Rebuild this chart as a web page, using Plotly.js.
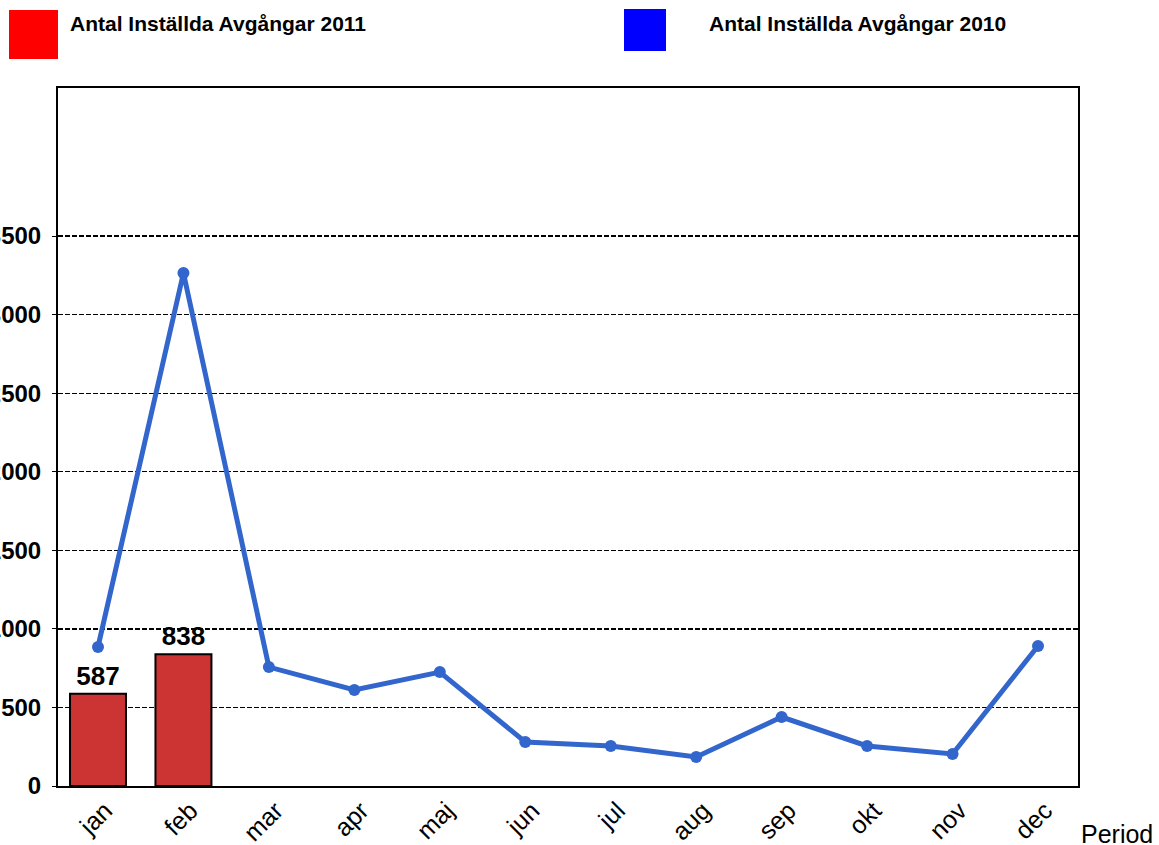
<!DOCTYPE html>
<html>
<head>
<meta charset="utf-8">
<script src="https://cdn.plot.ly/plotly-3.0.1.min.js"></script>
<style>
html,body{margin:0;padding:0;background:#fff;}
#chart{width:1159px;height:845px;}
</style>
</head>
<body>
<div id="chart"></div>
<script>
const months = ["jan","feb","mar","apr","maj","jun","jul","aug","sep","okt","nov","dec"];
const bars2011 = [587, 838];
const barMonths2011 = ["jan","feb"];
const line2010 = [885, 3265, 757, 611, 725, 280, 255, 185, 439, 255, 204, 891];
const yTicks = [0, 500, 1000, 1500, 2000, 2500, 3000, 3500];
const legendNames = ["Antal Inställda Avgångar 2011", "Antal Inställda Avgångar 2010"];
const xTitle = "Period";

const FONT = "Liberation Sans, Arial, sans-serif";

const traces = [
  {
    type: "bar",
    x: barMonths2011,
    y: bars2011,
    width: 0.655,
    marker: {color: "#CC3333", line: {color: "#000", width: 2}},
    text: bars2011.map(String),
    textposition: "outside",
    textfont: {family: FONT, size: 26, color: "#000", weight: "bold"},
    cliponaxis: false,
    showlegend: false,
    hoverinfo: "x+y"
  },
  {
    type: "scatter",
    mode: "lines+markers",
    x: months,
    y: line2010,
    line: {color: "#3366CC", width: 5},
    marker: {color: "#3366CC", size: 12},
    showlegend: false
  }
];

const layout = {
  width: 1159,
  height: 845,
  margin: {l: 58, r: 81, t: 88, b: 59},
  paper_bgcolor: "#fff",
  plot_bgcolor: "#fff",
  showlegend: false,
  font: {family: FONT, color: "#000"},
  xaxis: {
    type: "category",
    categoryorder: "array",
    categoryarray: months,
    range: [-0.468, 11.468],
    tickangle: -45,
    tickfont: {family: FONT, size: 25, color: "#000"},
    ticklabelshift: 7,
    ticklabelstandoff: -2,
    showline: true, linecolor: "#000", linewidth: 2, mirror: true,
    showgrid: false,
    ticks: "",
    zeroline: false
  },
  yaxis: {
    range: [0, 4442],
    tickmode: "array",
    tickvals: yTicks,
    ticktext: yTicks.map(String),
    tickfont: {family: FONT, size: 24, color: "#000", weight: "bold"},
    ticks: "outside", ticklen: 4, tickcolor: "#000", tickwidth: 1,
    ticklabelstandoff: 6,
    showline: true, linecolor: "#000", linewidth: 2, mirror: true,
    showgrid: true, gridcolor: "#000", gridwidth: 1.3, griddash: "5px,2px",
    zeroline: false
  },
  shapes: [
    {type: "rect", xref: "paper", yref: "paper",
     x0: (9-58)/1020, x1: (58-58)/1020, y0: (786-10)/698, y1: (786-59)/698,
     fillcolor: "#FF0000", line: {width: 0}},
    {type: "rect", xref: "paper", yref: "paper",
     x0: (624-58)/1020, x1: (666-58)/1020, y0: (786-9)/698, y1: (786-51)/698,
     fillcolor: "#0000FF", line: {width: 0}}
  ],
  annotations: [
    {xref: "paper", yref: "paper", x: (68-58)/1020, y: (786-24)/698,
     xanchor: "left", yanchor: "middle", showarrow: false,
     text: legendNames[0], font: {family: FONT, size: 21, color: "#000", weight: "bold"}},
    {xref: "paper", yref: "paper", x: (707-58)/1020, y: (786-23)/698,
     xanchor: "left", yanchor: "middle", showarrow: false,
     text: legendNames[1], font: {family: FONT, size: 21, color: "#000", weight: "bold"}},
    {xref: "paper", yref: "paper", x: (1079-58)/1020, y: (786-834)/698,
     xanchor: "left", yanchor: "middle", showarrow: false,
     text: xTitle, font: {family: FONT, size: 25, color: "#000"}}
  ]
};

Plotly.newPlot("chart", traces, layout, {displayModeBar: false, staticPlot: true});
</script>
</body>
</html>
